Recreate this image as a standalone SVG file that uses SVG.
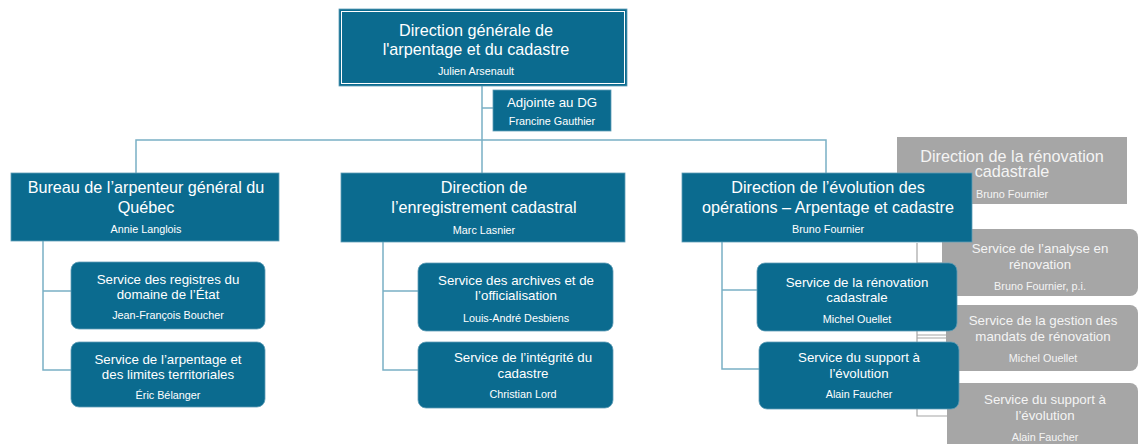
<svg xmlns="http://www.w3.org/2000/svg" width="1138" height="444" viewBox="0 0 1138 444">
<style>
text{font-family:"Liberation Sans",Arial,sans-serif;text-anchor:middle;fill:#ffffff}
.t{font-size:16.2px}
.s{font-size:13.3px}
.n{font-size:10.8px}
.g text{fill:#f4f4f4}
.blue{fill:#0b6b8f;stroke:#5f9db6;stroke-width:0.8}
.gray{fill:#a6a6a6}
.cb{stroke:#7ab0c5;stroke-width:1.5;fill:none}
.cg{stroke:#a6a6a6;stroke-width:1.2;fill:none}
</style>
<rect width="1138" height="444" fill="#ffffff"/>
<g id="connectors-gray">
<path class="cg" d="M917 243V416H947M917 263H942M917 335H946M917 338H946"/>
</g>
<g id="n-dir-renov" class="g">
<rect class="gray" x="897" y="137" width="230" height="67"/>
<text class="t" x="1012" y="162">Direction de la rénovation</text>
<text class="t" x="1012" y="177">cadastrale</text>
<text class="n" x="1012" y="198">Bruno Fournier</text>
</g>
<g id="n-analyse" class="g">
<rect class="gray" x="942" y="229" width="196" height="67" rx="8"/>
<text class="s" x="1040" y="253">Service de l’analyse en</text>
<text class="s" x="1040" y="269">rénovation</text>
<text class="n" x="1040" y="290">Bruno Fournier, p.i.</text>
</g>
<g id="n-gestion" class="g">
<rect class="gray" x="946" y="305" width="192" height="66" rx="8"/>
<text class="s" x="1043" y="325">Service de la gestion des</text>
<text class="s" x="1043" y="341">mandats de rénovation</text>
<text class="n" x="1043" y="362">Michel Ouellet</text>
</g>
<g id="n-support-gray" class="g">
<rect class="gray" x="947" y="383" width="191" height="75" rx="8"/>
<text class="s" x="1045" y="404">Service du support à</text>
<text class="s" x="1045" y="420">l’évolution</text>
<text class="n" x="1045" y="441">Alain Faucher</text>
</g>
<g id="connectors">
<path class="cb" d="M482 85V173M136 173V140H826V173M482 108H493"/>
<path class="cb" d="M43 241V370H71M43 291H71"/>
<path class="cb" d="M383 242V370H418M383 291H418"/>
<path class="cb" d="M722 242V369H759M722 290H757"/>
</g>
<g id="n-dg">
<rect x="339" y="9" width="288" height="77" fill="#0b6b8f" stroke="#5f9db6" stroke-width="0.8"/>
<rect x="341.5" y="11.5" width="283" height="72" fill="none" stroke="#ffffff" stroke-width="1"/>
<text class="t" x="476" y="36">Direction générale de</text>
<text class="t" x="476" y="55">l'arpentage et du cadastre</text>
<text class="n" x="476" y="75">Julien Arsenault</text>
</g>
<g id="n-adjointe">
<rect class="blue" x="493" y="90" width="118" height="41"/>
<text class="s" x="552" y="107">Adjointe au DG</text>
<text class="n" x="552" y="125">Francine Gauthier</text>
</g>
<g id="n-bureau">
<rect class="blue" x="11" y="173" width="268" height="68"/>
<text class="t" x="146" y="193">Bureau de l’arpenteur général du</text>
<text class="t" x="146" y="213">Québec</text>
<text class="n" x="146" y="233">Annie Langlois</text>
</g>
<g id="n-enreg">
<rect class="blue" x="341" y="173" width="284" height="69"/>
<text class="t" x="484" y="193">Direction de</text>
<text class="t" x="484" y="213">l’enregistrement cadastral</text>
<text class="n" x="484" y="234">Marc Lasnier</text>
</g>
<g id="n-evol">
<rect class="blue" x="682" y="173" width="290" height="69"/>
<text class="t" x="828" y="193">Direction de l’évolution des</text>
<text class="t" x="828" y="213">opérations – Arpentage et cadastre</text>
<text class="n" x="828" y="233">Bruno Fournier</text>
</g>
<g id="n-registres">
<rect class="blue" x="71" y="262" width="194" height="67" rx="8"/>
<text class="s" x="168" y="284">Service des registres du</text>
<text class="s" x="168" y="299">domaine de l’État</text>
<text class="n" x="168" y="319">Jean-François Boucher</text>
</g>
<g id="n-arpentage">
<rect class="blue" x="71" y="342" width="194" height="65" rx="8"/>
<text class="s" x="168" y="364">Service de l’arpentage et</text>
<text class="s" x="168" y="379">des limites territoriales</text>
<text class="n" x="168" y="399">Éric Bélanger</text>
</g>
<g id="n-archives">
<rect class="blue" x="418" y="263" width="195" height="68" rx="8"/>
<text class="s" x="516" y="285">Service des archives et de</text>
<text class="s" x="516" y="300">l’officialisation</text>
<text class="n" x="516" y="322">Louis-André Desbiens</text>
</g>
<g id="n-integrite">
<rect class="blue" x="418" y="342" width="195" height="66" rx="8"/>
<text class="s" x="523" y="362">Service de l’intégrité du</text>
<text class="s" x="523" y="378">cadastre</text>
<text class="n" x="523" y="398">Christian Lord</text>
</g>
<g id="n-renovation">
<rect class="blue" x="757" y="263" width="200" height="68" rx="8"/>
<text class="s" x="857" y="287">Service de la rénovation</text>
<text class="s" x="857" y="302">cadastrale</text>
<text class="n" x="857" y="323">Michel Ouellet</text>
</g>
<g id="n-support">
<rect class="blue" x="759" y="342" width="200" height="67" rx="8"/>
<text class="s" x="859" y="362">Service du support à</text>
<text class="s" x="859" y="378">l’évolution</text>
<text class="n" x="859" y="398">Alain Faucher</text>
</g>
</svg>
